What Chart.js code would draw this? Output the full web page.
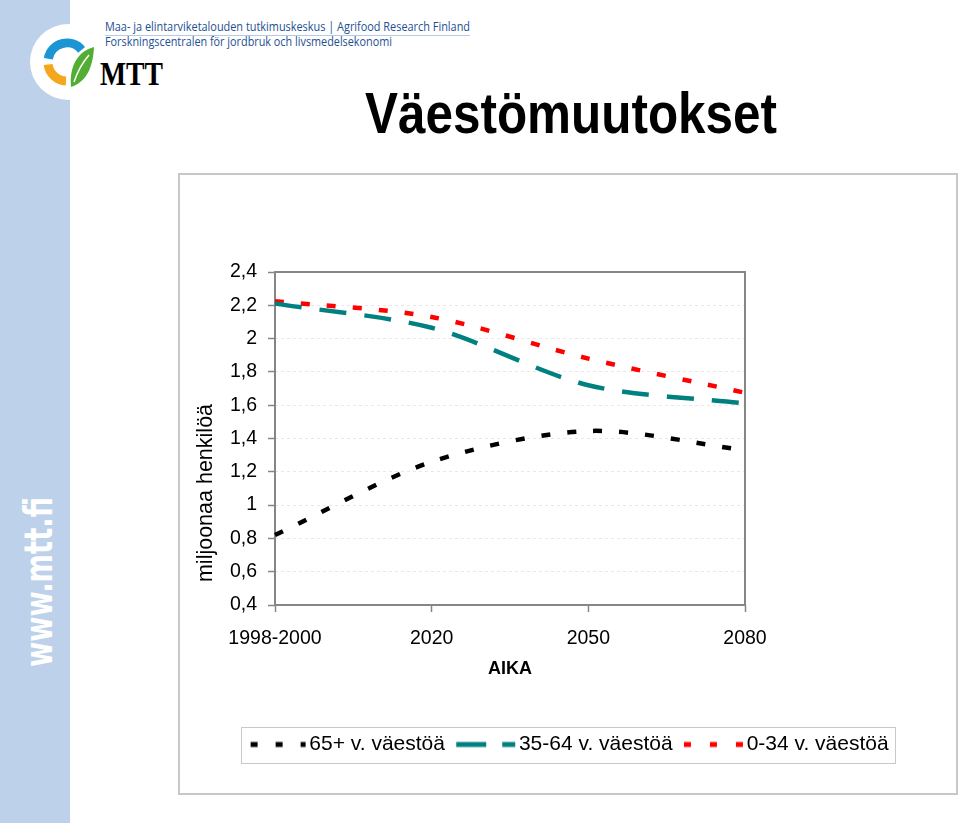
<!DOCTYPE html>
<html lang="fi">
<head>
<meta charset="utf-8">
<title>Väestömuutokset</title>
<script src="https://cdn.jsdelivr.net/npm/chart.js@4.4.1/dist/chart.umd.min.js"></script>
<style>
  html, body { margin: 0; padding: 0; background: #fff; }
  body { width: 960px; height: 823px; position: relative; overflow: hidden; font-family: 'Liberation Sans', Arial, sans-serif; }
  #raita { position: absolute; left: 0; top: 0; width: 70px; height: 823px; background: #bed1ea; }
  #koriste { position: absolute; left: 0; top: 0; }
  #kehys { position: absolute; left: 178px; top: 173px; width: 776px; height: 618px; border: 2px solid #c8c8c8; }
  #kuvio { display: block; }
</style>
</head>
<body>
<div id="raita"></div>

<!-- logo, otsikko ja sivun reunateksti -->
<svg id="koriste" width="960" height="823">
  <circle cx="68" cy="62" r="38" fill="#fff"/>
  <path d="M 48.3 58.7 A 19 19 0 0 1 81.6 49.8" fill="none" stroke="#1b95d3" stroke-width="9"/>
  <path d="M 48.1 64.5 A 19 19 0 0 0 66 81" fill="none" stroke="#f5a71c" stroke-width="9"/>
  <path d="M 71 87 C 69 66, 78 51, 94 47 C 93 68, 86 82, 71 87 Z" fill="#52ae32"/>
  <path d="M 74 82 C 78 70, 83 62, 89 55" fill="none" stroke="#fff" stroke-width="1.5"/>
  <text x="100" y="85" font-family="'Liberation Serif', 'DejaVu Serif', serif" font-weight="bold" font-size="33" textLength="63" lengthAdjust="spacingAndGlyphs">MTT</text>
  <text x="105" y="31" font-family="'Open Sans', sans-serif" font-size="12" fill="#1d4f91" textLength="365" lengthAdjust="spacingAndGlyphs">Maa- ja elintarviketalouden tutkimuskeskus | Agrifood Research Finland</text>
  <line x1="105" y1="35.5" x2="470" y2="35.5" stroke="#b3cbe6" stroke-width="1"/>
  <text x="105" y="46" font-family="'Open Sans', sans-serif" font-size="12" fill="#1d4f91" textLength="287" lengthAdjust="spacingAndGlyphs">Forskningscentralen för jordbruk och livsmedelsekonomi</text>
  <text x="365" y="133" font-family="'Liberation Sans', Arial, sans-serif" font-weight="bold" font-size="57" textLength="412" lengthAdjust="spacingAndGlyphs">Väestömuutokset</text>
  <text transform="translate(52,667) rotate(-90)" font-family="'DejaVu Sans', sans-serif" font-weight="bold" font-size="39" fill="#fff" textLength="170" lengthAdjust="spacingAndGlyphs">www.mtt.fi</text>
</svg>

<div id="kehys"><canvas id="kuvio" width="776" height="618"></canvas></div>

<script>
// Aikapisteet (x-akselin luokat)
const ajat = ["1998-2000", "2020", "2050", "2080"];

// Ikäryhmien koko, miljoonaa henkilöä
const yli65 = [0.82, 1.26, 1.445, 1.33];
const ika35_64 = [2.21, 2.065, 1.72, 1.61];
const ika0_34 = [2.225, 2.13, 1.88, 1.675];

// y-akselin jakoviivat
const yJaot = [0.4, 0.6, 0.8, 1.0, 1.2, 1.4, 1.6, 1.8, 2.0, 2.2, 2.4];

const sarjanimet = ["65+ v. väestöä", "35-64 v. väestöä", "0-34 v. väestöä"];

Chart.defaults.font.family = "'Liberation Sans', Arial, sans-serif";
Chart.defaults.color = "#000";

// pilkku desimaalierottimena, kuten alkuperäisessä
const muotoile = v => String(Number(v.toFixed(1))).replace(".", ",");

// Selitteen viivanäytteet pieninä kuvina, jotta katkoviiva näkyy
// ja näyte ulottuu lähelle tekstiä (Excelin tapaan)
function nayte(vari, katko, siirto) {
  const c = document.createElement("canvas");
  c.width = 67;
  c.height = 8;
  const g = c.getContext("2d");
  g.strokeStyle = vari;
  g.lineWidth = 5;
  g.setLineDash(katko);
  g.lineDashOffset = siirto;
  g.beginPath();
  g.moveTo(7, 4);
  g.lineTo(66, 4);
  g.stroke();
  return c;
}
const naytteet = [
  nayte("#000000", [7, 18], 21),
  nayte("#008080", [30, 16], 0),
  nayte("#ff0000", [7, 19], 0)
];

// Kuvaaja-alueen kehys, y-akselin otsikko ja selitteen laatikko
const kehysPlugin = {
  id: "kehys",
  beforeDatasetsDraw(chart) {
    const { ctx, chartArea: a } = chart;
    ctx.save();
    ctx.strokeStyle = "#868686";
    ctx.lineWidth = 2;
    ctx.strokeRect(a.left, a.top, a.right - a.left, a.bottom - a.top);
    ctx.restore();
  },
  afterDraw(chart) {
    const { ctx, chartArea: a } = chart;
    ctx.save();
    ctx.translate(a.left - 69, a.top + 221);
    ctx.rotate(-Math.PI / 2);
    ctx.font = "21.5px 'Liberation Sans', Arial, sans-serif";
    ctx.fillStyle = "#000";
    ctx.textAlign = "center";
    ctx.textBaseline = "middle";
    ctx.fillText("miljoonaa henkilöä", 0, 0);
    ctx.restore();

    const laatikot = chart.legend.legendHitBoxes;
    if (!laatikot || !laatikot.length) return;
    const vasen = Math.min(...laatikot.map(b => b.left)) - 6;
    const oikea = Math.max(...laatikot.map(b => b.left + b.width)) + 7;
    const keski = laatikot[0].top + laatikot[0].height / 2;
    ctx.save();
    ctx.strokeStyle = "#c8c8c8";
    ctx.lineWidth = 1;
    ctx.strokeRect(Math.round(vasen) + 0.5, Math.round(keski - 18) + 0.5, Math.round(oikea - vasen), 36);
    ctx.restore();
  }
};

const kuvio = new Chart(document.getElementById("kuvio").getContext("2d"), {
  type: "line",
  data: {
    labels: ajat,
    datasets: [
      {
        label: sarjanimet[0],
        data: yli65,
        borderColor: "#000000",
        backgroundColor: "#000000",
        borderWidth: 4.5,
        borderDash: [9, 17],
        pointRadius: 0,
        tension: 0.3,
        fill: false
      },
      {
        label: sarjanimet[1],
        data: ika35_64,
        borderColor: "#008080",
        backgroundColor: "#008080",
        borderWidth: 4.5,
        borderDash: [27, 18],
        pointRadius: 0,
        tension: 0.3,
        fill: false
      },
      {
        label: sarjanimet[2],
        data: ika0_34,
        borderColor: "#ff0000",
        backgroundColor: "#ff0000",
        borderWidth: 4.5,
        borderDash: [9, 17],
        pointRadius: 0,
        tension: 0.3,
        fill: false
      }
    ]
  },
  options: {
    responsive: false,
    animation: false,
    devicePixelRatio: 1,
    layout: { padding: { top: 97, bottom: 28, left: 0, right: 0 } },
    scales: {
      x: {
        offset: false,
        grid: { drawOnChartArea: false, drawTicks: true, tickLength: 7, tickColor: "#868686", tickWidth: 1.5 },
        border: { display: false },
        ticks: { font: { size: 19.5 }, padding: 15, maxRotation: 0, autoSkip: false },
        title: { display: true, text: "AIKA", font: { size: 18, weight: "bold" }, padding: { top: 0, bottom: 42 } },
        afterFit(s) { s.height = 117; }
      },
      y: {
        min: 0.4,
        max: 2.4,
        afterBuildTicks(s) { s.ticks = yJaot.map(v => ({ value: v })); },
        grid: { color: "rgba(0,0,0,0.09)", lineWidth: 1, tickLength: 7, tickColor: "#868686", tickWidth: 1.5, tickBorderDash: [] },
        border: { display: false, dash: [3, 3] },
        ticks: { font: { size: 19.5 }, padding: 11, callback: v => muotoile(v) },
        afterFit(s) { s.width = 95; }
      },
      oikea: {
        type: "linear",
        position: "right",
        grid: { display: false },
        border: { display: false },
        ticks: { display: false },
        afterFit(s) { s.width = 211; }
      }
    },
    plugins: {
      legend: {
        position: "bottom",
        labels: {
          usePointStyle: true,
          pointStyleWidth: 51.5,
          font: { size: 21 },
          color: "#000",
          padding: 12,
          generateLabels(chart) {
            const perus = Chart.defaults.plugins.legend.labels.generateLabels(chart);
            return perus.map((item, i) => ({ ...item, pointStyle: naytteet[i] }));
          }
        }
      },
      tooltip: { enabled: false }
    }
  },
  plugins: [kehysPlugin]
});
</script>
</body>
</html>
